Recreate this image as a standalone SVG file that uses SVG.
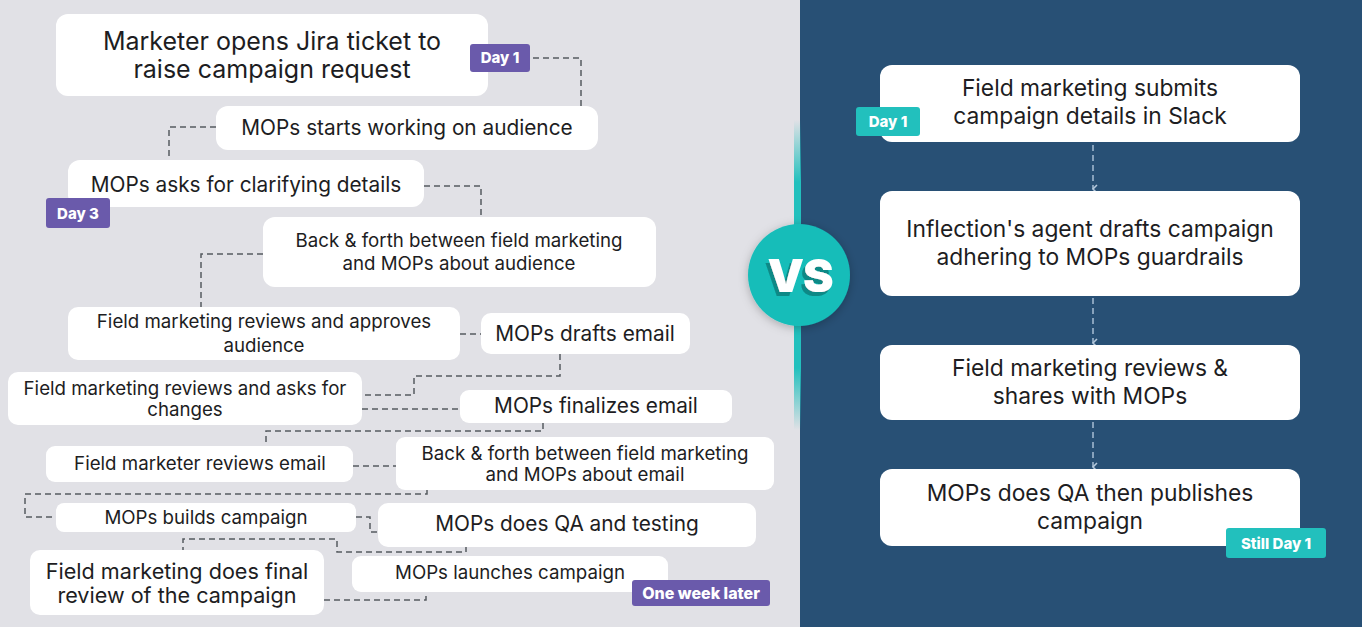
<svg xmlns="http://www.w3.org/2000/svg" width="1362" height="627" viewBox="0 0 1362 627">
<defs>
<style>
.card{fill:#ffffff}
.t{font-family:Inter,"Noto Sans",sans-serif;fill:#1d1d22;text-anchor:middle}
.s24{font-size:25px}.s22{font-size:22.8px}.s21{font-size:21.6px}.s20{font-size:20.8px}.s18{font-size:18.7px}
.badge-p{fill:#6a5aab}
.badge-t{fill:#22c0bd}
.bt{font-family:Inter,"Noto Sans",sans-serif;font-weight:800;fill:#ffffff;text-anchor:middle;font-size:15px}
.dl{fill:none;stroke:#555b60;stroke-width:1.5;stroke-dasharray:6 4}
.dr{fill:none;stroke:#a6bdd3;stroke-width:1.5;stroke-dasharray:6 4}
</style>
<linearGradient id="tealLine" x1="0" y1="0" x2="0" y2="1">
<stop offset="0" stop-color="#22c0bd" stop-opacity="0"/>
<stop offset="0.2" stop-color="#22c0bd" stop-opacity="1"/>
<stop offset="0.8" stop-color="#22c0bd" stop-opacity="1"/>
<stop offset="1" stop-color="#22c0bd" stop-opacity="0"/>
</linearGradient>
<filter id="sh" x="-30%" y="-30%" width="160%" height="160%">
<feDropShadow dx="0" dy="2" stdDeviation="5" flood-color="#000" flood-opacity="0.25"/>
</filter>
<filter id="vsShadow" x="-20%" y="-20%" width="140%" height="140%">
<feOffset in="SourceAlpha" dx="-3" dy="4" result="o"/>
<feFlood flood-color="#0c8986"/>
<feComposite in2="o" operator="in" result="s"/>
<feMerge><feMergeNode in="s"/><feMergeNode in="SourceGraphic"/></feMerge>
</filter>
<marker id="chev" viewBox="0 0 10 10" refX="5" refY="8" markerWidth="10" markerHeight="10" orient="auto" markerUnits="userSpaceOnUse">
<path d="M1,4 L5,8 L9,4" fill="none" stroke="#b4c8dc" stroke-width="1.6"/>
</marker>
</defs>

<rect x="0" y="0" width="800" height="627" fill="#e1e1e6"/>
<rect x="800" y="0" width="562" height="627" fill="#285075"/>
<rect x="794" y="120" width="7" height="310" fill="url(#tealLine)"/>

<g id="connectors">
<path class="dl" d="M533,58 H581 V106"/>
<path class="dl" d="M216,127 H169 V160"/>
<path class="dl" d="M424,186 H481 V217"/>
<path class="dl" d="M263,254 H201 V307"/>
<path class="dl" d="M460,334 H481"/>
<path class="dl" d="M560,354 V376 H414 V395 H362"/>
<path class="dl" d="M362,409 H460"/>
<path class="dl" d="M543,423 V431 H266 V446"/>
<path class="dl" d="M353,466 H396"/>
<path class="dl" d="M427,490 V494 H25 V517 H56"/>
<path class="dl" d="M356,517 H370 V532 H378"/>
<path class="dl" d="M466,546 V552 H337 V539 H183 V550"/>
<path class="dl" d="M324,600 H426 V592"/>
<path class="dr" d="M1093,145 V189" marker-end="url(#chev)"/>
<path class="dr" d="M1093,298 V343" marker-end="url(#chev)"/>
<path class="dr" d="M1093,422 V467" marker-end="url(#chev)"/>
</g>

<g id="n1">
<rect class="card" x="56" y="14" width="432" height="82" rx="12"/>
<text class="t s24" x="272" y="50">Marketer opens Jira ticket to</text>
<text class="t s24" x="272" y="78">raise campaign request</text>
</g>
<g id="b-day1-left">
<rect class="badge-p" x="470" y="44" width="60" height="28" rx="3"/>
<text class="bt" x="500" y="63">Day 1</text>
</g>
<g id="n2">
<rect class="card" x="216" y="106" width="382" height="44" rx="12"/>
<text class="t s20" x="407" y="135">MOPs starts working on audience</text>
</g>
<g id="n3">
<rect class="card" x="68" y="160" width="356" height="47" rx="12"/>
<text class="t s20" x="246" y="192">MOPs asks for clarifying details</text>
</g>
<g id="b-day3">
<rect class="badge-p" x="46" y="198" width="64" height="30" rx="3"/>
<text class="bt" x="78" y="219">Day 3</text>
</g>
<g id="n4">
<rect class="card" x="263" y="217" width="393" height="70" rx="12"/>
<text class="t s18" x="459" y="247">Back &amp; forth between field marketing</text>
<text class="t s18" x="459" y="270">and MOPs about audience</text>
</g>
<g id="n5">
<rect class="card" x="68" y="307" width="392" height="53" rx="10"/>
<text class="t s18" x="264" y="328">Field marketing reviews and approves</text>
<text class="t s18" x="264" y="352">audience</text>
</g>
<g id="n6">
<rect class="card" x="481" y="313" width="209" height="41" rx="10"/>
<text class="t s20" x="585" y="341">MOPs drafts email</text>
</g>
<g id="n7">
<rect class="card" x="8" y="372" width="354" height="53" rx="10"/>
<text class="t s18" x="185" y="395">Field marketing reviews and asks for</text>
<text class="t s18" x="185" y="416">changes</text>
</g>
<g id="n8">
<rect class="card" x="460" y="390" width="272" height="33" rx="9"/>
<text class="t s20" x="596" y="413">MOPs finalizes email</text>
</g>
<g id="n9">
<rect class="card" x="46" y="446" width="307" height="36" rx="9"/>
<text class="t s18" x="200" y="470">Field marketer reviews email</text>
</g>
<g id="n10">
<rect class="card" x="396" y="437" width="378" height="53" rx="9"/>
<text class="t s18" x="585" y="460">Back &amp; forth between field marketing</text>
<text class="t s18" x="585" y="481">and MOPs about email</text>
</g>
<g id="n11">
<rect class="card" x="56" y="503" width="300" height="29" rx="8"/>
<text class="t s18" x="206" y="524">MOPs builds campaign</text>
</g>
<g id="n12">
<rect class="card" x="378" y="503" width="378" height="44" rx="10"/>
<text class="t s20" x="567" y="531">MOPs does QA and testing</text>
</g>
<g id="n13">
<rect class="card" x="30" y="550" width="294" height="65" rx="10"/>
<text class="t s21" x="177" y="579">Field marketing does final</text>
<text class="t s21" x="177" y="603">review of the campaign</text>
</g>
<g id="n14">
<rect class="card" x="352" y="556" width="316" height="36" rx="9"/>
<text class="t s18" x="510" y="579">MOPs launches campaign</text>
</g>
<g id="b-week">
<rect class="badge-p" x="632" y="580" width="138" height="26" rx="3"/>
<text class="bt" x="701" y="599" style="font-size:16px">One week later</text>
</g>

<g id="vs">
<circle cx="799" cy="275" r="51" fill="#15bdb9" filter="url(#sh)"/>
<text x="800" y="292" font-family="Inter,'Noto Sans',sans-serif" font-weight="900" font-size="46" fill="#ffffff" text-anchor="middle" letter-spacing="-1" filter="url(#vsShadow)">VS</text>
</g>

<g id="r1">
<rect class="card" x="880" y="65" width="420" height="77" rx="12"/>
<text class="t s22" x="1090" y="96">Field marketing submits</text>
<text class="t s22" x="1090" y="124">campaign details in Slack</text>
</g>
<g id="b-day1-right">
<rect class="badge-t" x="856" y="107" width="64" height="29" rx="3"/>
<text class="bt" x="888" y="127">Day 1</text>
</g>
<g id="r2">
<rect class="card" x="880" y="191" width="420" height="105" rx="12"/>
<text class="t s22" x="1090" y="237">Inflection's agent drafts campaign</text>
<text class="t s22" x="1090" y="265">adhering to MOPs guardrails</text>
</g>
<g id="r3">
<rect class="card" x="880" y="345" width="420" height="75" rx="12"/>
<text class="t s22" x="1090" y="376">Field marketing reviews &amp;</text>
<text class="t s22" x="1090" y="404">shares with MOPs</text>
</g>
<g id="r4">
<rect class="card" x="880" y="469" width="420" height="77" rx="12"/>
<text class="t s22" x="1090" y="501">MOPs does QA then publishes</text>
<text class="t s22" x="1090" y="529">campaign</text>
</g>
<g id="b-still">
<rect class="badge-t" x="1226" y="528" width="100" height="30" rx="3"/>
<text class="bt" x="1276" y="549">Still Day 1</text>
</g>
</svg>
